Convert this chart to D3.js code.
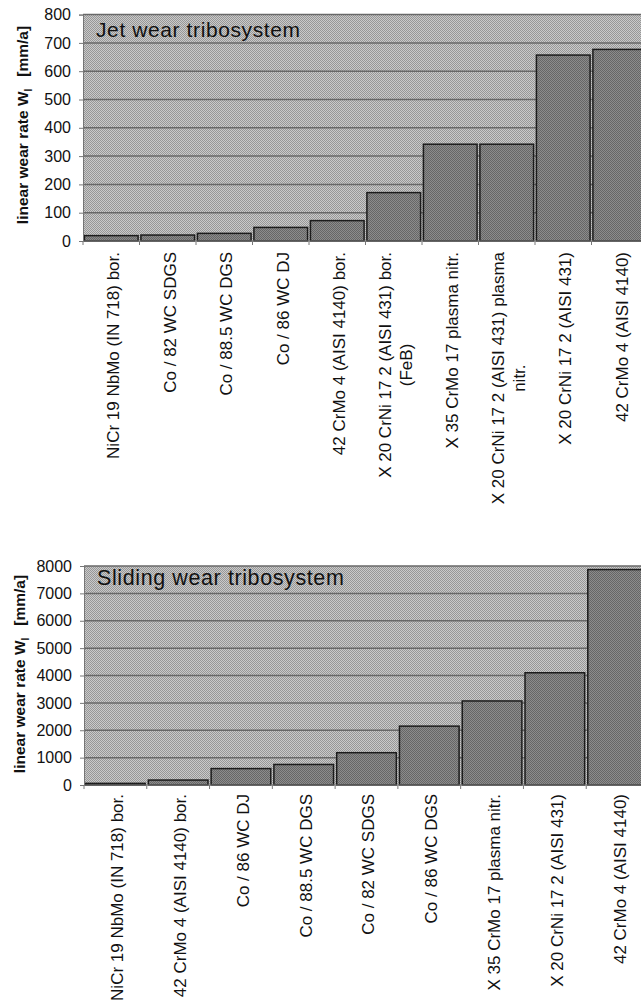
<!DOCTYPE html>
<html>
<head>
<meta charset="utf-8">
<script src="https://cdn.jsdelivr.net/npm/d3@7"></script>
<style>
  html, body { margin: 0; padding: 0; background: #fff; }
  svg { display: block; font-family: "Liberation Sans", Arial, sans-serif; }
</style>
</head>
<body>
<svg id="chart" width="641" height="1004"></svg>
<script>
// --- data ---
const jetCategories = [
  'NiCr 19 NbMo (IN 718) bor.',
  'Co / 82 WC SDGS',
  'Co / 88.5 WC DGS',
  'Co / 86 WC DJ',
  '42 CrMo 4 (AISI 4140) bor.',
  'X 20 CrNi 17 2  (AISI 431) bor.\n(FeB)',
  'X 35 CrMo 17 plasma nitr.',
  'X 20 CrNi 17 2 (AISI 431) plasma\nnitr.',
  'X 20 CrNi 17 2 (AISI 431)',
  '42 CrMo 4 (AISI 4140)'
];
const jetValues = [19, 21, 27, 48, 72, 171, 342, 342, 657, 677];
const jetTicks = [0, 100, 200, 300, 400, 500, 600, 700, 800];

const slideCategories = [
  'NiCr 19 NbMo (IN 718) bor.',
  '42 CrMo 4 (AISI 4140) bor.',
  'Co / 86 WC DJ',
  'Co / 88.5 WC DGS',
  'Co / 82 WC SDGS',
  'Co / 86 WC DGS',
  'X 35 CrMo 17 plasma nitr.',
  'X 20 CrNi 17 2 (AISI 431)',
  '42 CrMo 4 (AISI 4140)'
];
const slideValues = [60, 180, 600, 750, 1180, 2150, 3070, 4100, 7870];
const slideTicks = [0, 1000, 2000, 3000, 4000, 5000, 6000, 7000, 8000];

const svg = d3.select('#chart');

// halftone-like fills (the scan is dithered)
const defs = svg.append('defs');
function checker(id, a, b) {
  const p = defs.append('pattern')
    .attr('id', id).attr('width', 2).attr('height', 2)
    .attr('patternUnits', 'userSpaceOnUse');
  p.append('rect').attr('width', 2).attr('height', 2).attr('fill', a);
  p.append('rect').attr('width', 1).attr('height', 1).attr('fill', b);
  p.append('rect').attr('x', 1).attr('y', 1).attr('width', 1).attr('height', 1).attr('fill', b);
}
checker('bgFill', '#cacaca', '#979797');
checker('barFill', '#8c8c8c', '#666666');

function drawPanel(o) {
  const g = svg.append('g');
  const x = d3.scaleBand().domain(o.categories).range(o.xRange)
    .paddingInner(0.05).paddingOuter(0.025);
  const y = d3.scaleLinear().domain([0, o.ticks[o.ticks.length - 1]]).range(o.yRange);

  // plot background
  g.append('rect')
    .attr('x', o.xRange[0]).attr('y', y.range()[1])
    .attr('width', o.xRange[1] - o.xRange[0])
    .attr('height', y.range()[0] - y.range()[1])
    .attr('fill', 'url(#bgFill)');

  // gridlines
  g.selectAll('line.grid').data(o.ticks.slice(1)).join('line')
    .attr('class', 'grid')
    .attr('x1', o.xRange[0]).attr('x2', o.xRange[1])
    .attr('y1', d => y(d)).attr('y2', d => y(d))
    .attr('stroke', '#686868').attr('stroke-width', 1.5);

  // bars
  g.selectAll('rect.bar').data(o.categories).join('rect')
    .attr('class', 'bar')
    .attr('x', d => x(d))
    .attr('y', (d, i) => y(o.values[i]))
    .attr('width', x.bandwidth())
    .attr('height', (d, i) => y(0) - y(o.values[i]))
    .attr('fill', 'url(#barFill)')
    .attr('stroke', '#1c1c1c').attr('stroke-width', 1.5);

  // y axis
  const ya = g.append('g').attr('transform', `translate(${o.xRange[0]},0)`)
    .call(d3.axisLeft(y).tickValues(o.ticks).tickSize(4).tickPadding(8).tickFormat(d3.format('d')));
  ya.select('.domain').attr('stroke', '#777');
  ya.selectAll('.tick line').attr('stroke', '#777');
  ya.selectAll('.tick text').attr('font-size', 16).attr('fill', '#111')
    .attr('font-family', '"Liberation Sans", Arial, sans-serif');

  // x axis line and boundary ticks
  g.append('line')
    .attr('x1', o.xRange[0]).attr('x2', o.xRange[1])
    .attr('y1', y(0)).attr('y2', y(0))
    .attr('stroke', '#777').attr('stroke-width', 1);
  const step = x.step();
  const bounds = d3.range(o.categories.length + 1).map(i => o.xRange[0] + x.paddingOuter() * step + i * step - x.paddingInner() * step / 2);
  g.selectAll('line.xt').data(bounds).join('line')
    .attr('class', 'xt')
    .attr('x1', d => d).attr('x2', d => d)
    .attr('y1', y(0)).attr('y2', y(0) + 4)
    .attr('stroke', '#777');

  // category labels, rotated
  o.categories.forEach(c => {
    const lines = c.split('\n');
    const cx = x(c) + x.bandwidth() / 2 + 2;
    const top = y(0) + o.labelGap;
    const lg = g.append('g')
      .attr('transform', `translate(${cx},${top}) rotate(-90)`);
    const lh = 21;
    const off = -(lines.length - 1) * lh / 2;
    const first = lg.append('text')
      .attr('x', 0).attr('y', off).attr('dy', '0.35em')
      .attr('text-anchor', 'end').attr('font-size', 17).attr('fill', '#111')
      .text(lines[0]);
    const w = first.node().getComputedTextLength();
    lines.slice(1).forEach((t, i) => {
      lg.append('text')
        .attr('x', -w / 2).attr('y', off + (i + 1) * lh).attr('dy', '0.35em')
        .attr('text-anchor', 'middle').attr('font-size', 17).attr('fill', '#111')
        .text(t);
    });
  });

  // panel title
  g.append('text')
    .attr('x', o.xRange[0] + 13).attr('y', o.titleY)
    .attr('font-size', o.titleSize).attr('letter-spacing', o.titleSpacing).attr('fill', '#111')
    .text(o.title);

  // y axis title
  const yt = g.append('text')
    .attr('transform', `translate(${o.yTitleX},${o.yTitleY}) rotate(-90)`)
    .attr('text-anchor', 'middle').attr('font-size', 15.5).attr('font-weight', 'bold')
    .attr('fill', '#111');
  yt.append('tspan').text('linear wear rate W');
  yt.append('tspan').attr('font-size', 10).attr('dy', 4).text('l');
  yt.append('tspan').attr('dy', -4).attr('dx', 12).text('[mm/a]');
}

drawPanel({
  categories: jetCategories, values: jetValues, ticks: jetTicks,
  xRange: [83, 648], yRange: [241, 14.6], labelGap: 11,
  title: 'Jet wear tribosystem', titleY: 37, titleSize: 21, titleSpacing: 0.6,
  yTitleX: 28, yTitleY: 125
});

drawPanel({
  categories: slideCategories, values: slideValues, ticks: slideTicks,
  xRange: [84, 649], yRange: [785, 566], labelGap: 9,
  title: 'Sliding wear tribosystem', titleY: 585, titleSize: 21.5, titleSpacing: 0.6,
  yTitleX: 25, yTitleY: 674
});
</script>
</body>
</html>
